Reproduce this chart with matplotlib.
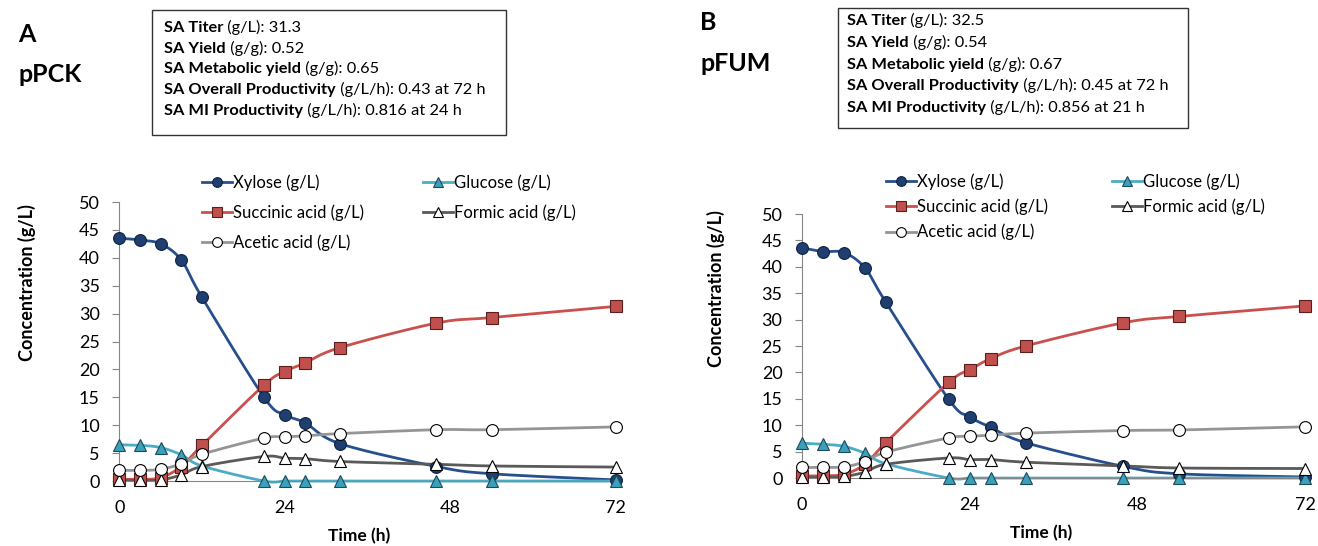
import matplotlib
matplotlib.use("Agg")
import matplotlib.pyplot as plt
import numpy as np

plt.rcParams['font.family'] = ['Lato', 'DejaVu Sans']

# sampling times (h), same for both strains
time_h = [0, 3, 6, 9, 12, 21, 24, 27, 32, 46, 54, 72]

# pPCK strain (panel A)
xylose_a = [43.5, 43.2, 42.5, 39.6, 32.9, 15.0, 11.9, 10.4, 6.7, 2.6, 1.3, 0.2]
glucose_a = [6.5, 6.4, 6.0, 4.7, 2.7, 0, 0, 0, 0, 0, 0, 0]
succinic_a = [0.3, 0.3, 0.6, 2.6, 6.4, 17.2, 19.6, 21.2, 23.9, 28.3, 29.3, 31.3]
formic_a = [0.1, 0.1, 0.2, 1.1, 2.6, 4.4, 4.1, 4.0, 3.5, 3.0, 2.7, 2.5]
acetic_a = [1.9, 1.9, 2.1, 3.1, 4.8, 7.7, 7.9, 8.1, 8.5, 9.2, 9.2, 9.7]

# pFUM strain (panel B)
xylose_b = [43.6, 42.9, 42.7, 39.8, 33.3, 14.9, 11.6, 9.6, 6.7, 2.2, 0.8, 0.2]
glucose_b = [6.6, 6.4, 6.0, 4.7, 2.7, 0, 0, 0, 0, 0, 0, 0]
succinic_b = [0.4, 0.4, 0.7, 2.6, 6.7, 18.1, 20.5, 22.6, 25.0, 29.4, 30.6, 32.6]
formic_b = [0.1, 0.1, 0.3, 1.1, 2.6, 3.8, 3.5, 3.5, 3.0, 2.3, 1.9, 1.8]
acetic_b = [2.0, 2.0, 2.1, 3.1, 4.9, 7.6, 7.9, 8.1, 8.5, 9.0, 9.1, 9.7]

series_names = ["Xylose (g/L)", "Glucose (g/L)", "Succinic acid (g/L)",
                "Formic acid (g/L)", "Acetic acid (g/L)"]

info_bold = ["SA Titer", "SA Yield", "SA Metabolic yield",
             "SA Overall Productivity", "SA MI Productivity"]
info_a = [" (g/L): 31.3", " (g/g): 0.52", " (g/g): 0.65",
          " (g/L/h): 0.43 at 72 h", " (g/L/h): 0.816 at 24 h"]
info_b = [" (g/L): 32.5", " (g/g): 0.54", " (g/g): 0.67",
          " (g/L/h): 0.45 at 72 h", " (g/L/h): 0.856 at 21 h"]

# line colour, marker, marker face, marker edge
styles = [
    ("#264f8c", "o", "#1f3f70", "#0d2340"),
    ("#4bacc6", "^", "#3aa0bc", "#1b4a58"),
    ("#c9504d", "s", "#c0504d", "#5a1f1d"),
    ("#5a5a5a", "^", "white", "black"),
    ("#959595", "o", "white", "black"),
]


def smooth(x, y, n=24):
    # catmull-rom style curve through the points (like excel "smoothed line")
    pts = np.column_stack([x, y]).astype(float)
    p = np.vstack([pts[0], pts, pts[-1]])
    t = np.linspace(0, 1, n, endpoint=False)[:, None]
    out = []
    for i in range(1, len(p) - 2):
        p0, p1, p2, p3 = p[i - 1], p[i], p[i + 1], p[i + 2]
        seg = 0.5 * (2 * p1 + (-p0 + p2) * t
                     + (2 * p0 - 5 * p1 + 4 * p2 - p3) * t ** 2
                     + (-p0 + 3 * p1 - 3 * p2 + p3) * t ** 3)
        out.append(seg)
    out.append(pts[-1][None])
    s = np.vstack(out)
    return s[:, 0], s[:, 1]


fig = plt.figure(figsize=(13.18, 5.46), dpi=100)


def panel(rect, data, leg_anchor, leg_space, col_space, ylab_pos, xlab_pos):
    ax = fig.add_axes(rect)
    handles = []
    for vals, name, (lc, mk, mf, me) in zip(data, series_names, styles):
        sx, sy = smooth(time_h, vals)
        ax.plot(sx, sy, color=lc, lw=2.0, clip_on=False, zorder=2)
        ax.plot(time_h, vals, ls="none", marker=mk, ms=8.5, mfc=mf, mec=me,
                mew=0.8, clip_on=False, zorder=3)
        h, = ax.plot([], [], color=lc, lw=2.0, marker=mk, ms=7, mfc=mf,
                     mec=me, mew=0.8)
        handles.append(h)
    ax.set_xlim(0, 72)
    ax.set_ylim(0, 50)
    ax.set_xticks([0, 24, 48, 72])
    ax.set_yticks(range(0, 51, 5))
    for s in ["top", "right"]:
        ax.spines[s].set_visible(False)
    ax.spines["left"].set_color("#868686")
    ax.spines["bottom"].set_color("#868686")
    ax.tick_params(axis="y", length=5, color="#868686", labelsize=13, pad=9)
    ax.tick_params(axis="x", length=0, labelsize=13, pad=14)
    ax.set_xlabel("Time (h)", fontsize=12.5, fontweight="bold")
    ax.set_ylabel("Concentration (g/L)", fontsize=13, fontweight="bold")
    ax.yaxis.set_label_coords(*ylab_pos)
    ax.xaxis.set_label_coords(*xlab_pos)
    order = [0, 2, 4, 1, 3]
    ax.legend([handles[i] for i in order], [series_names[i] for i in order],
              ncol=2, loc="upper left", bbox_to_anchor=leg_anchor,
              bbox_transform=fig.transFigure, frameon=False, fontsize=12,
              handlelength=1.8, handletextpad=0.1, columnspacing=col_space,
              labelspacing=leg_space, borderaxespad=0, borderpad=0)
    return ax


panel([0.0905, 0.119, 0.3766, 0.511],
      [xylose_a, glucose_a, succinic_a, formic_a, acetic_a],
      (0.153, 0.680), 0.80, 3.5, (-0.167, 0.713), (0.483, -0.168))
panel([0.6085, 0.1245, 0.3816, 0.4835],
      [xylose_b, glucose_b, succinic_b, formic_b, acetic_b],
      (0.672, 0.683), 0.53, 3.8, (-0.153, 0.716), (0.475, -0.178))

renderer = fig.canvas.get_renderer()


def info_box(x0, y0, x1, y1, tx, ty, dy, rest):
    fig.add_artist(plt.Rectangle((x0 / 1318, 1 - y1 / 546),
                                 (x1 - x0) / 1318, (y1 - y0) / 546,
                                 transform=fig.transFigure, fill=False,
                                 ec="#333333", lw=1.0))
    for i, (b, r) in enumerate(zip(info_bold, rest)):
        yy = 1 - (ty + i * dy) / 546
        t = fig.text(tx / 1318, yy, b, fontsize=11.8, fontweight="bold",
                     va="baseline")
        bb = t.get_window_extent(renderer)
        fig.text(bb.x1 / 1318, yy, r, fontsize=11.8, va="baseline")


info_box(152, 10, 506, 135, 164, 32, 20.7, info_a)
info_box(838, 8, 1188, 128, 847, 25, 21.8, info_b)

fig.text(18 / 1318, 1 - 42 / 546, "A", fontsize=18, fontweight="bold")
fig.text(18 / 1318, 1 - 82 / 546, "pPCK", fontsize=18, fontweight="bold")
fig.text(700 / 1318, 1 - 30 / 546, "B", fontsize=18, fontweight="bold")
fig.text(700 / 1318, 1 - 71 / 546, "pFUM", fontsize=18, fontweight="bold")

fig.savefig("out.png", dpi=100)
